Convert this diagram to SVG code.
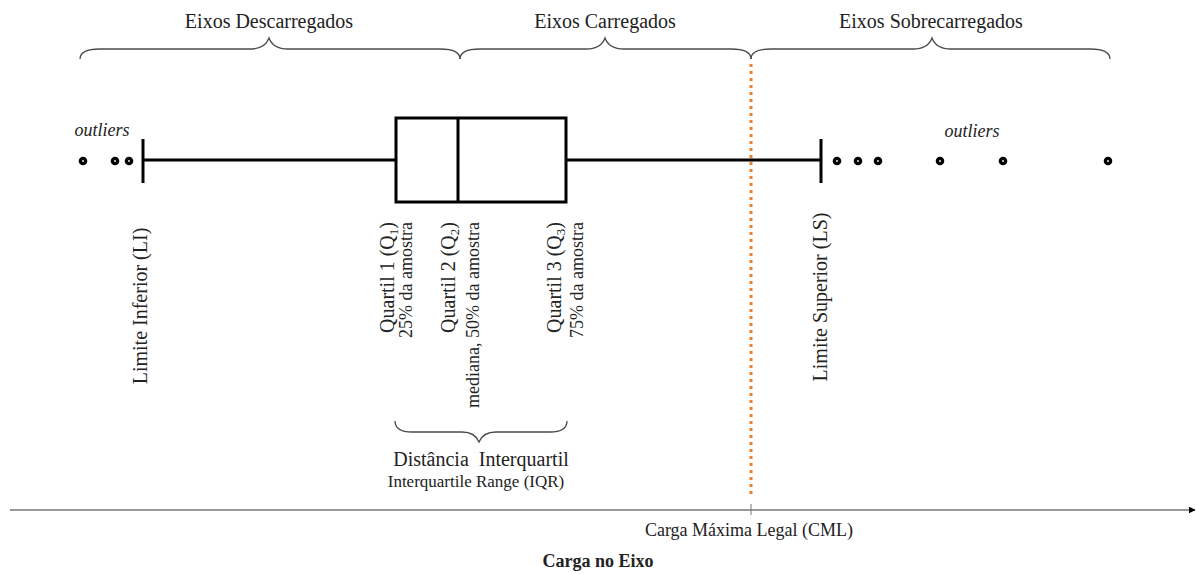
<svg xmlns="http://www.w3.org/2000/svg" width="1196" height="574" viewBox="0 0 1196 574">
<defs>
<style>
.t{font-family:"Liberation Serif","Times New Roman",serif;fill:#222;}
.brace{fill:none;stroke:#4a4a4a;stroke-width:1.3;}
.bx{fill:none;stroke:#000;stroke-width:3;}
.dot{fill:#fff;stroke:#000;stroke-width:3.4;}
</style>
<marker id="arr" viewBox="0 0 10 10" refX="9" refY="5" markerWidth="7" markerHeight="7" markerUnits="userSpaceOnUse" orient="auto">
<path d="M0,0 L10,5 L0,10 z" fill="#000"/>
</marker>
</defs>
<rect width="1196" height="574" fill="#fff"/>

<g id="braces">
<path class="brace" d="M80,59 Q80,49 100,49 L250,49 Q265,49 269,38 Q273,49 288,49 L440,49 Q460,49 460,59"/>
<path class="brace" d="M460,59 Q460,49 480,49 L586,49 Q601,49 605,38 Q609,49 624,49 L731,49 Q751,49 751,59"/>
<path class="brace" d="M751,59 Q751,49 771,49 L913,49 Q928,49 932,38 Q936,49 951,49 L1090,49 Q1110,49 1110,59"/>
<path class="brace" d="M395,421 Q395,432 412,432 L462,432 Q475,432 479,442 Q483,432 496,432 L550,432 Q567,432 567,421"/>
</g>

<g id="titles">
<text class="t" x="269" y="28" font-size="20" text-anchor="middle">Eixos Descarregados</text>
<text class="t" x="605" y="28" font-size="20" text-anchor="middle">Eixos Carregados</text>
<text class="t" x="931" y="28" font-size="20" text-anchor="middle">Eixos Sobrecarregados</text>
</g>

<g id="boxplot">
<line class="bx" x1="143" y1="160" x2="396" y2="160"/>
<line class="bx" x1="566" y1="160" x2="821" y2="160"/>
<line class="bx" x1="143" y1="139" x2="143" y2="183"/>
<line class="bx" x1="821" y1="139" x2="821" y2="183"/>
<rect class="bx" x="396" y="118" width="170" height="84"/>
<line class="bx" x1="458" y1="118" x2="458" y2="202"/>
</g>

<g id="outliers">
<text class="t" x="102" y="136" font-size="18" font-style="italic" text-anchor="middle">outliers</text>
<text class="t" x="972" y="137" font-size="18" font-style="italic" text-anchor="middle">outliers</text>
<circle class="dot" cx="83" cy="161" r="2.6"/>
<circle class="dot" cx="115" cy="161" r="2.6"/>
<circle class="dot" cx="129" cy="161" r="2.6"/>
<circle class="dot" cx="837" cy="161" r="2.6"/>
<circle class="dot" cx="858" cy="161" r="2.6"/>
<circle class="dot" cx="878" cy="161" r="2.6"/>
<circle class="dot" cx="940" cy="161" r="2.6"/>
<circle class="dot" cx="1003" cy="161" r="2.6"/>
<circle class="dot" cx="1108" cy="161" r="2.6"/>
</g>

<g id="labels">
<text class="t" font-size="20" text-anchor="middle" transform="translate(147,306) rotate(-90)">Limite Inferior (LI)</text>
<text class="t" font-size="20" text-anchor="middle" transform="translate(827,297) rotate(-90)">Limite Superior (LS)</text>
<text class="t" font-size="20" text-anchor="end" transform="translate(393.5,222) rotate(-90)">Quartil 1 (Q<tspan font-size="13" dy="4">1</tspan><tspan dy="-4">)</tspan></text>
<text class="t" font-size="18" text-anchor="end" transform="translate(412,222) rotate(-90)">25% da amostra</text>
<text class="t" font-size="20" text-anchor="end" transform="translate(455,222) rotate(-90)">Quartil 2 (Q<tspan font-size="13" dy="4">2</tspan><tspan dy="-4">)</tspan></text>
<text class="t" font-size="18" text-anchor="end" transform="translate(479,222) rotate(-90)">mediana, 50% da amostra</text>
<text class="t" font-size="20" text-anchor="end" transform="translate(561,222) rotate(-90)">Quartil 3 (Q<tspan font-size="13" dy="4">3</tspan><tspan dy="-4">)</tspan></text>
<text class="t" font-size="18" text-anchor="end" transform="translate(583,222) rotate(-90)">75% da amostra</text>
<text class="t" x="481" y="466" font-size="20" text-anchor="middle">Distância&#160; Interquartil</text>
<text class="t" x="476" y="487" font-size="17" text-anchor="middle">Interquartile Range (IQR)</text>
</g>

<g id="connectors">
<line x1="10" y1="510" x2="1195" y2="510" stroke="#777" stroke-width="1.5" marker-end="url(#arr)"/>
<line x1="751" y1="504" x2="751" y2="515" stroke="#777" stroke-width="1"/>
<line x1="751" y1="64" x2="751" y2="497" stroke="#ED7D31" stroke-width="3" stroke-dasharray="3 4"/>
</g>

<g id="axis-labels">
<text class="t" x="749" y="536" font-size="18" text-anchor="middle">Carga Máxima Legal (CML)</text>
<text class="t" x="598" y="567" font-size="18" font-weight="bold" text-anchor="middle">Carga no Eixo</text>
</g>
</svg>
